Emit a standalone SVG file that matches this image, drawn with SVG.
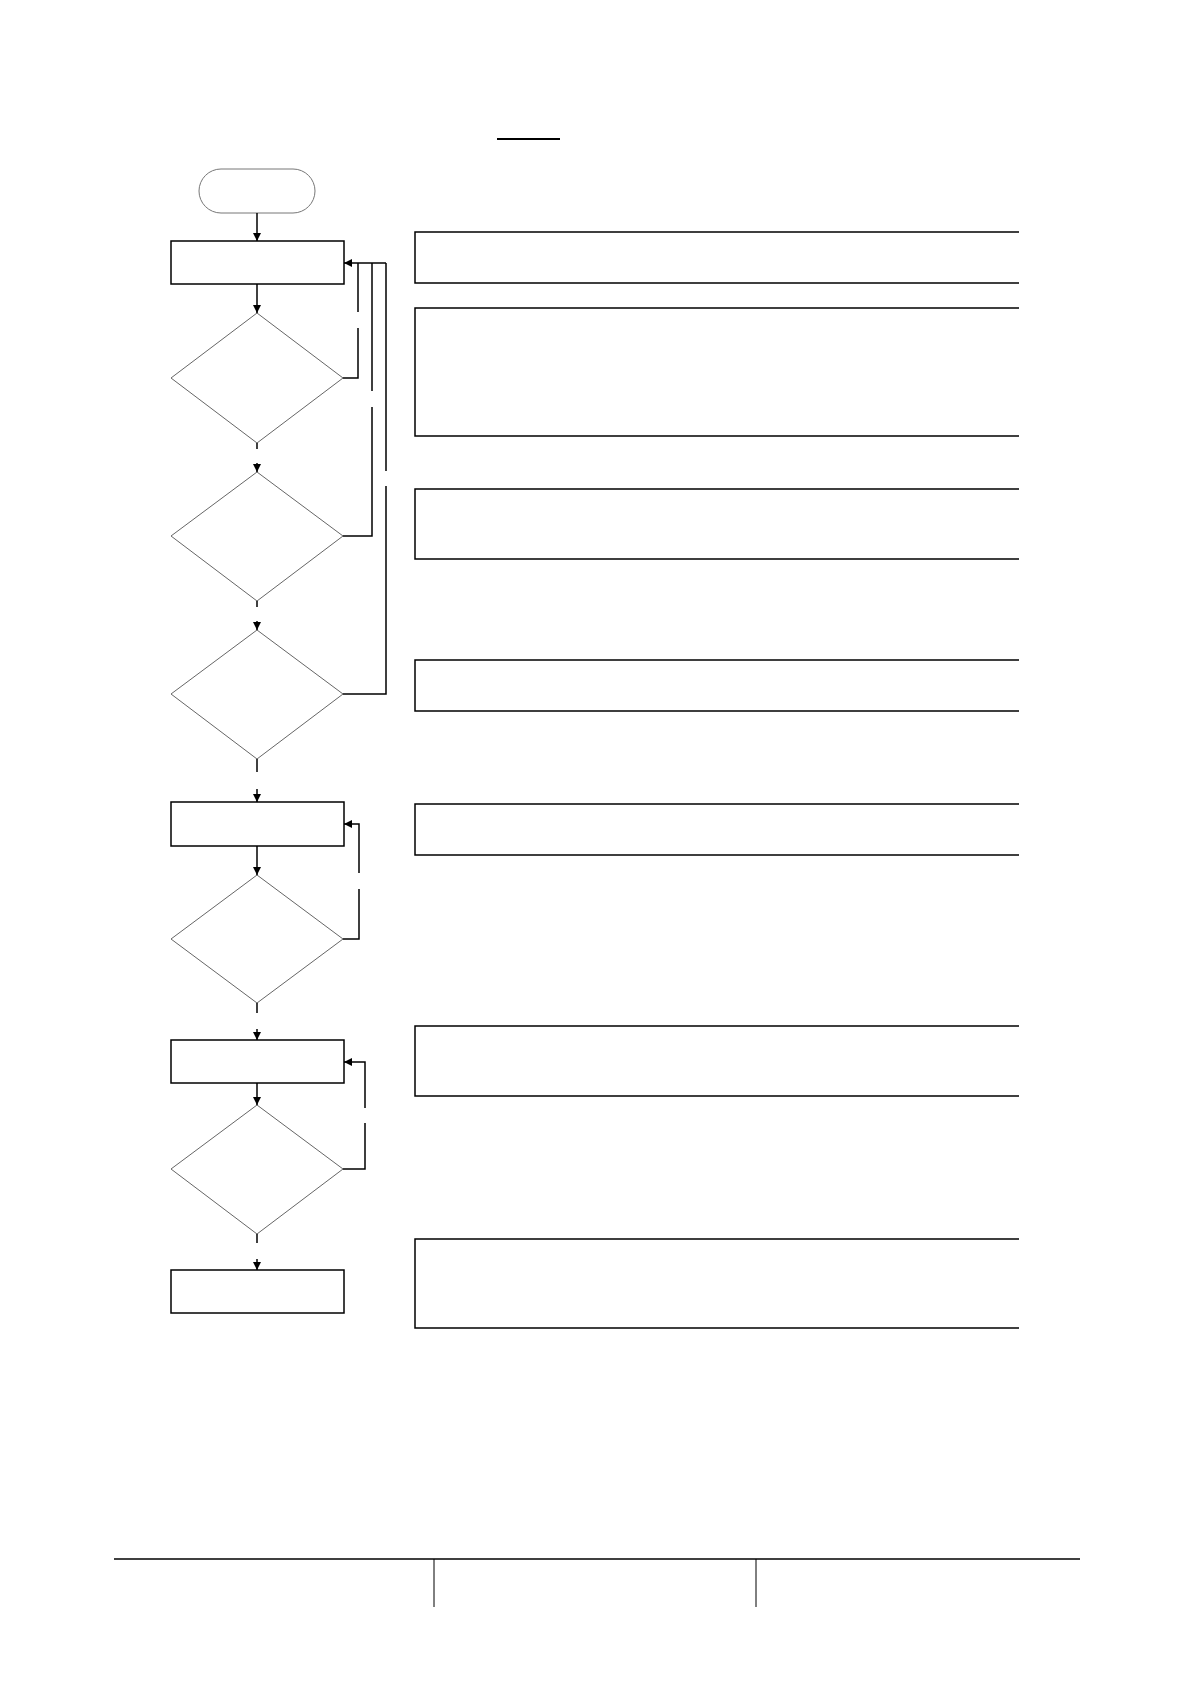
<svg xmlns="http://www.w3.org/2000/svg" width="1191" height="1684" viewBox="0 0 1191 1684">
<style>
.box{fill:none;stroke:#000;stroke-width:1.5}
.dia{fill:none;stroke:#666;stroke-width:1}
.term{fill:none;stroke:#777;stroke-width:1}
.ln{fill:none;stroke:#000;stroke-width:1.5}
.ah{fill:#000;stroke:none}
.note{fill:none;stroke:#000;stroke-width:1.5}
</style>
<defs>
<marker id="arrD" viewBox="0 0 10 10" refX="10" refY="5" markerWidth="8" markerHeight="8" markerUnits="userSpaceOnUse" orient="auto"><path d="M0,0 L10,5 L0,10 Z" fill="#000"/></marker>
</defs>
<rect width="1191" height="1684" fill="#fff"/>
<g id="title"><line x1="497" y1="139" x2="560" y2="139" stroke="#000" stroke-width="2"/></g>
<g id="start"><rect class="term" x="199" y="169" width="116" height="44" rx="22" ry="22"/></g>
<g id="box1"><rect class="box" x="171" y="241" width="173" height="43"/></g>
<g id="dec1"><polygon class="dia" points="257,313 343,378 257,443 171,378"/></g>
<g id="dec2"><polygon class="dia" points="257,472 343,536 257,601 171,536"/></g>
<g id="dec3"><polygon class="dia" points="257,630 343,694 257,759 171,694"/></g>
<g id="box2"><rect class="box" x="171" y="802" width="173" height="44"/></g>
<g id="dec4"><polygon class="dia" points="257,875 343,939 257,1003 171,939"/></g>
<g id="box3"><rect class="box" x="171" y="1040" width="173" height="43"/></g>
<g id="dec5"><polygon class="dia" points="257,1105 343,1169 257,1234 171,1169"/></g>
<g id="box4"><rect class="box" x="171" y="1270" width="173" height="43"/></g>
<g id="notes">
<path id="noteA" class="note" d="M1019,232 H415 V283 H1019"/>
<path id="noteB" class="note" d="M1019,308 H415 V436 H1019"/>
<path id="noteC" class="note" d="M1019,489 H415 V559 H1019"/>
<path id="noteD" class="note" d="M1019,660 H415 V711 H1019"/>
<path id="noteE" class="note" d="M1019,804 H415 V855 H1019"/>
<path id="noteF" class="note" d="M1019,1026 H415 V1096 H1019"/>
<path id="noteG" class="note" d="M1019,1239 H415 V1328 H1019"/>
</g>
<g id="connectors">
<line class="ln" x1="257" y1="213" x2="257" y2="241" marker-end="url(#arrD)"/>
<line class="ln" x1="257" y1="284" x2="257" y2="313" marker-end="url(#arrD)"/>
<line class="ln" x1="257" y1="443" x2="257" y2="449"/>
<line class="ln" x1="257" y1="463" x2="257" y2="472" marker-end="url(#arrD)"/>
<line class="ln" x1="257" y1="601" x2="257" y2="607"/>
<line class="ln" x1="257" y1="621" x2="257" y2="630" marker-end="url(#arrD)"/>
<line class="ln" x1="257" y1="759" x2="257" y2="772"/>
<line class="ln" x1="257" y1="789" x2="257" y2="802" marker-end="url(#arrD)"/>
<line class="ln" x1="257" y1="846" x2="257" y2="875" marker-end="url(#arrD)"/>
<line class="ln" x1="257" y1="1003" x2="257" y2="1013"/>
<line class="ln" x1="257" y1="1029" x2="257" y2="1040" marker-end="url(#arrD)"/>
<line class="ln" x1="257" y1="1083" x2="257" y2="1105" marker-end="url(#arrD)"/>
<line class="ln" x1="257" y1="1234" x2="257" y2="1243"/>
<line class="ln" x1="257" y1="1259" x2="257" y2="1270" marker-end="url(#arrD)"/>
<line class="ln" x1="386" y1="263" x2="344" y2="263" marker-end="url(#arrD)"/>
<path class="ln" d="M343,378 H358 V328 M358,312 V263"/>
<path class="ln" d="M343,536 H372 V407 M372,391 V263"/>
<path class="ln" d="M343,694 H386 V486 M386,471 V263"/>
<path class="ln" d="M343,939 H359 V889 M359,873 V824 H352"/>
<line class="ln" x1="352" y1="824" x2="344" y2="824" marker-end="url(#arrD)"/>
<path class="ln" d="M343,1169 H365 V1123 M365,1108 V1062 H352"/>
<line class="ln" x1="352" y1="1062" x2="344" y2="1062" marker-end="url(#arrD)"/>
</g>
<g id="footer">
<line x1="114" y1="1559" x2="1080" y2="1559" stroke="#000" stroke-width="1.5"/>
<line x1="434" y1="1559" x2="434" y2="1607" stroke="#000" stroke-width="1"/>
<line x1="756" y1="1559" x2="756" y2="1607" stroke="#000" stroke-width="1"/>
</g>
</svg>
